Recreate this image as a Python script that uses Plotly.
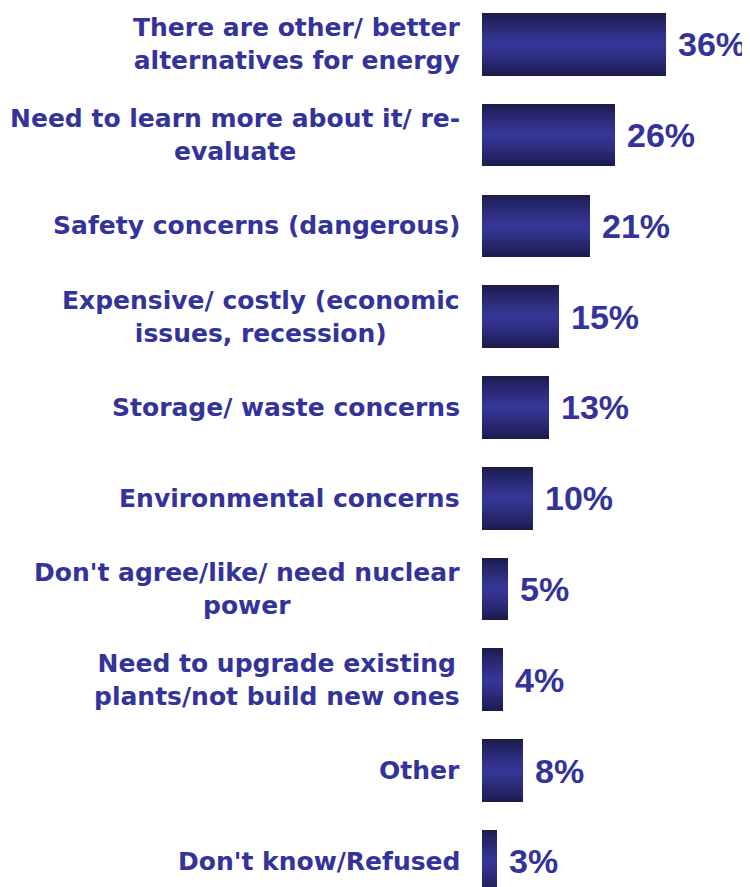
import plotly.graph_objects as go

categories = [
    "There are other/ better<br>alternatives for energy",
    "Need to learn more about it/ re-<br>evaluate",
    "Safety concerns (dangerous)",
    "Expensive/ costly (economic<br>issues, recession)",
    "Storage/ waste concerns",
    "Environmental concerns",
    "Don't agree/like/ need nuclear<br>power",
    "Need to upgrade existing<br>plants/not build new ones",
    "Other",
    "Don't know/Refused",
]
values = [36, 26, 21, 15, 13, 10, 5, 4, 8, 3]
value_labels = ["36%", "26%", "21%", "15%", "13%", "10%", "5%", "4%", "8%", "3%"]

TEXT = "#333399"
DARK = (27, 27, 76)
LIGHT = (54, 54, 152)
BAR_W = 0.69
N = 16

fig = go.Figure()
for k in range(N):
    t = k / (N - 1)
    t = t ** 0.8
    c = tuple(round(DARK[i] + (LIGHT[i] - DARK[i]) * t) for i in range(3))
    fig.add_trace(go.Bar(
        x=values, y=categories, orientation="h",
        width=BAR_W * (1 - k / N),
        marker=dict(color="rgb(%d,%d,%d)" % c, line=dict(width=0)),
        hoverinfo="skip", showlegend=False,
    ))

annotations = []
for cat, v, lab in zip(categories, values, value_labels):
    annotations.append(dict(
        x=0, y=cat, xref="x", yref="y", xanchor="right", yanchor="middle",
        xshift=-20, text=cat, showarrow=False, align="center",
        font=dict(family="DejaVu Sans", size=25, color=TEXT, weight="bold"),
    ))
    annotations.append(dict(
        x=v, y=cat, xref="x", yref="y", xanchor="left", yanchor="middle",
        xshift=10, text=lab, showarrow=False,
        font=dict(family="Liberation Sans", size=34, color=TEXT, weight="bold"),
    ))
# first label is right-aligned in the reference
annotations[0]["align"] = "right"

fig.update_layout(
    width=742, height=879,
    margin=dict(l=474, r=0, t=0, b=0),
    paper_bgcolor="white", plot_bgcolor="white",
    barmode="overlay", bargap=0,
    xaxis=dict(range=[0, 52.3], visible=False, fixedrange=True),
    yaxis=dict(type="category", categoryarray=categories, range=[9.282, -0.399],
               visible=False, fixedrange=True),
    annotations=annotations,
)

fig.write_html("out.html")
